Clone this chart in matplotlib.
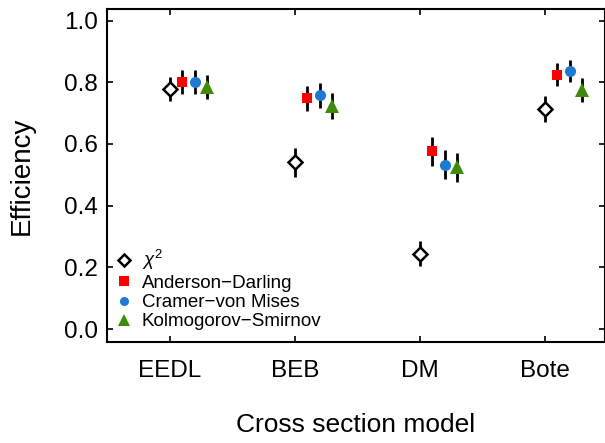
import matplotlib
matplotlib.use("Agg")
import matplotlib.pyplot as plt
import numpy as np

plt.rcParams['font.family'] = ['Liberation Sans', 'DejaVu Sans']
plt.rcParams['mathtext.fontset'] = 'custom'
plt.rcParams['mathtext.rm'] = 'Liberation Sans'
plt.rcParams['mathtext.it'] = 'Liberation Sans:italic'

categories = ["EEDL", "BEB", "DM", "Bote"]
series_names = [r"$\chi^2$", "Anderson\u2212Darling", "Cramer\u2212von Mises", "Kolmogorov\u2212Smirnov"]
chi2 = [0.778, 0.540, 0.244, 0.712]
chi2_err = [0.038, 0.046, 0.040, 0.042]
ad = [0.801, 0.748, 0.576, 0.825]
ad_err = [0.038, 0.041, 0.047, 0.037]
cvm = [0.801, 0.758, 0.533, 0.836]
cvm_err = [0.038, 0.041, 0.048, 0.036]
ks = [0.784, 0.723, 0.525, 0.775]
ks_err = [0.039, 0.043, 0.047, 0.040]
yticks = [0.0, 0.2, 0.4, 0.6, 0.8, 1.0]

fig = plt.figure(figsize=(6.05, 4.43), dpi=100)
ax = fig.add_axes([0.177, 0.228, 0.823, 0.752])

x = np.arange(1, len(categories) + 1)
styles = [
    dict(marker='D', mfc='white', mec='black', ms=7.5, mew=1.8),
    dict(marker='s', mfc='#ff0000', mec='#ff0000', ms=7.8, mew=0),
    dict(marker='o', mfc='#1f78d2', mec='#1f78d2', ms=8, mew=0),
    dict(marker='^', mfc='#3f8a0a', mec='#3f8a0a', ms=10.5, mew=0),
]
data = [(chi2, chi2_err), (ad, ad_err), (cvm, cvm_err), (ks, ks_err)]
for i, ((vals, errs), st) in enumerate(zip(data, styles)):
    xs = x + 0.1 * i
    ax.errorbar(xs, vals, yerr=errs, fmt='none', ecolor='black', elinewidth=2, capsize=0, zorder=2)
    ax.plot(xs, vals, linestyle='none', zorder=3, **st)

ax.set_xlim(0.5, 4.48)
ax.set_ylim(-0.042, 1.038)
ax.set_xticks(x)
ax.set_xticklabels(categories, fontsize=17.5)
ax.set_yticks(yticks)
ax.set_yticklabels([f"{v:.1f}" for v in yticks], fontsize=17.5)
ax.tick_params(direction='in', top=True, right=True, length=4, width=1.2)
ax.tick_params(axis='x', pad=13)
ax.tick_params(axis='y', pad=6.5)
for s in ax.spines.values():
    s.set_linewidth(1.5)
ax.set_ylabel("Efficiency", fontsize=20, labelpad=21)
ax.set_xlabel("Cross section model", fontsize=19, labelpad=22)

leg_styles = [
    dict(marker='D', mfc='white', mec='black', ms=6, mew=1.8),
    dict(marker='s', mfc='#ff0000', mec='#ff0000', ms=6.5, mew=0),
    dict(marker='o', mfc='#1f78d2', mec='#1f78d2', ms=6.5, mew=0),
    dict(marker='^', mfc='#3f8a0a', mec='#3f8a0a', ms=8, mew=0),
]
leg_handles = []
for st in leg_styles:
    h, = ax.plot([], [], linestyle='none', **st)
    leg_handles.append(h)
ax.legend(leg_handles, series_names, loc='lower left', frameon=False, fontsize=13.5,
          handletextpad=0.45, labelspacing=0.12, borderaxespad=0.0, handlelength=1.0,
          bbox_to_anchor=(0.0, 0.012))

fig.savefig("out.png", dpi=100)
